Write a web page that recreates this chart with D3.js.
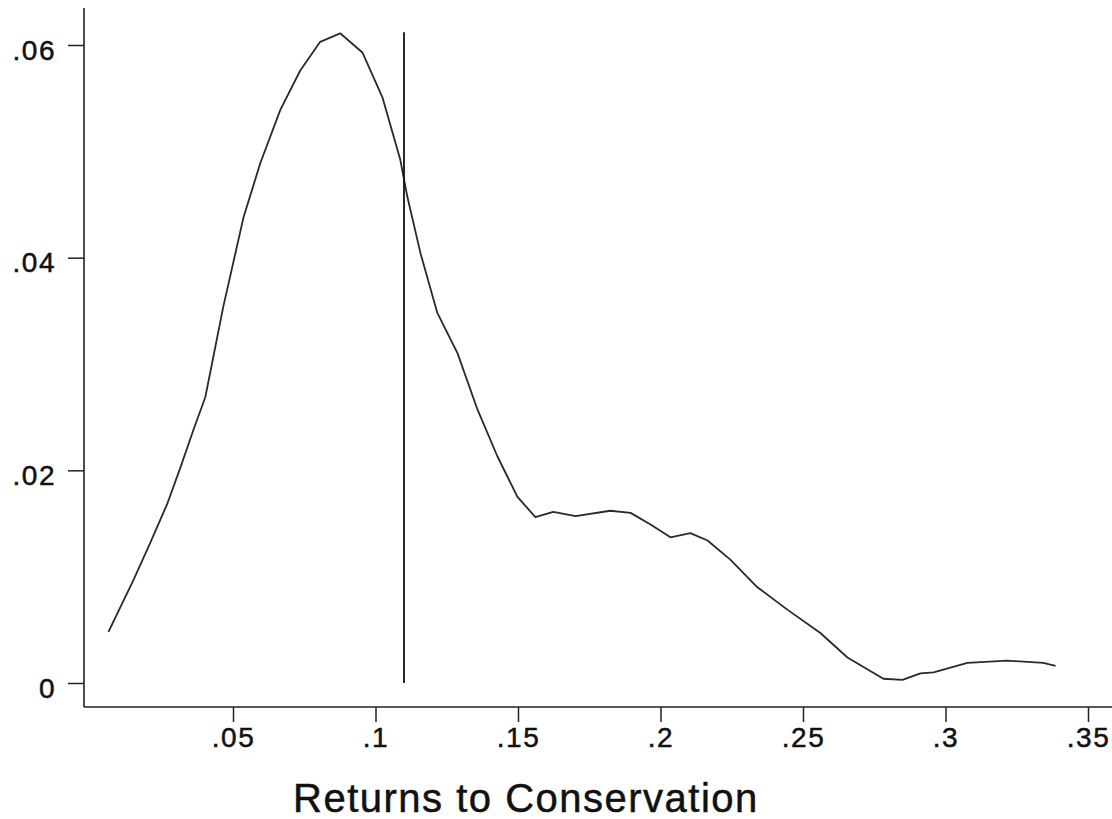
<!DOCTYPE html>
<html lang="en">
<head>
<meta charset="UTF-8">
<title>Returns to Conservation</title>
<script src="https://d3js.org/d3.v7.min.js"></script>
<style>
    body { margin: 0; background: #fff; }
    .tick text { font-family: "Liberation Sans", Arial, sans-serif; font-size: 28px; letter-spacing: 1.5px; fill: #111; stroke: #111; stroke-width: 0.5px; }
    .tick line { stroke: #222; stroke-width: 1.5px; }
</style>
</head>
<body>
<svg width="1112" height="819"></svg>
<script>
    // density estimate
    const densityX = [0.0063, 0.0151, 0.0210, 0.0270, 0.0316, 0.0361, 0.0403, 0.0466, 0.0537, 0.0596,
        0.0666, 0.0736, 0.0806, 0.0876, 0.0954, 0.1024, 0.1087, 0.1112, 0.1158, 0.1217,
        0.1288, 0.1358, 0.1428, 0.1498, 0.1561, 0.1624, 0.1702, 0.1824, 0.1895, 0.1965,
        0.2035, 0.2105, 0.2165, 0.2245, 0.2340, 0.2445, 0.2561, 0.2656, 0.2782, 0.2849,
        0.2912, 0.2958, 0.3077, 0.3217, 0.3343, 0.3386];
    const densityY = [0.0048, 0.0097, 0.0132, 0.0169, 0.0203, 0.0238, 0.0269, 0.0354, 0.0438, 0.0489,
        0.0539, 0.0576, 0.0603, 0.0611, 0.0593, 0.0551, 0.0492, 0.0457, 0.0404, 0.0348,
        0.0310, 0.0257, 0.0213, 0.0175, 0.0156, 0.0161, 0.0157, 0.0162, 0.0160, 0.0149,
        0.0137, 0.0141, 0.0134, 0.0116, 0.0090, 0.0069, 0.0047, 0.0024, 0.0004, 0.0003,
        0.0009, 0.0010, 0.0019, 0.0021, 0.0019, 0.0016];

    // vertical reference line
    const refX = 0.11;
    const refTop = 0.0612;

    const xTicks = [0.05, 0.1, 0.15, 0.2, 0.25, 0.3, 0.35];
    const xTickLabels = [".05", ".1", ".15", ".2", ".25", ".3", ".35"];
    const yTicks = [0, 0.02, 0.04, 0.06];
    const yTickLabels = ["0", ".02", ".04", ".06"];
    const xTitle = "Returns to Conservation";

    const svg = d3.select("svg");
    const axisX = 84, axisY = 707;

    const x = d3.scaleLinear().domain([0, 0.35]).range([90.5, 1088]);
    const y = d3.scaleLinear().domain([0, 0.06]).range([683, 45]);

    // axis lines
    svg.append("line")
        .attr("x1", axisX).attr("x2", axisX)
        .attr("y1", 8).attr("y2", axisY)
        .attr("stroke", "#222").attr("stroke-width", 1.6);
    svg.append("line")
        .attr("x1", axisX).attr("x2", 1112)
        .attr("y1", axisY).attr("y2", axisY)
        .attr("stroke", "#222").attr("stroke-width", 1.6);

    // y axis
    const gy = svg.append("g")
        .attr("transform", `translate(${axisX},0)`)
        .call(d3.axisLeft(y)
            .tickValues(yTicks)
            .tickFormat((d, i) => yTickLabels[i])
            .tickSize(16)
            .tickPadding(12));
    gy.select(".domain").remove();
    gy.selectAll(".tick text").attr("dy", "0.5em");

    // x axis
    const gx = svg.append("g")
        .attr("transform", `translate(0,${axisY})`)
        .call(d3.axisBottom(x)
            .tickValues(xTicks)
            .tickFormat((d, i) => xTickLabels[i])
            .tickSize(15)
            .tickPadding(5));
    gx.select(".domain").remove();

    // density curve
    const pts = densityX.map((d, i) => [d, densityY[i]]);
    svg.append("path")
        .datum(pts)
        .attr("fill", "none")
        .attr("stroke", "#2a2a2a")
        .attr("stroke-width", 1.8)
        .attr("stroke-linejoin", "round")
        .attr("d", d3.line().x(d => x(d[0])).y(d => y(d[1])));

    // reference line
    svg.append("line")
        .attr("x1", x(refX)).attr("x2", x(refX))
        .attr("y1", y(0)).attr("y2", y(refTop))
        .attr("stroke", "#111").attr("stroke-width", 1.8);

    // axis title
    svg.append("text")
        .attr("x", 293)
        .attr("y", 812)
        .attr("font-family", "Liberation Sans, Arial, sans-serif")
        .attr("font-size", 40)
        .attr("letter-spacing", "1.5px")
        .attr("fill", "#111")
        .attr("stroke", "#111")
        .attr("stroke-width", 0.5)
        .text(xTitle);
</script>
</body>
</html>
